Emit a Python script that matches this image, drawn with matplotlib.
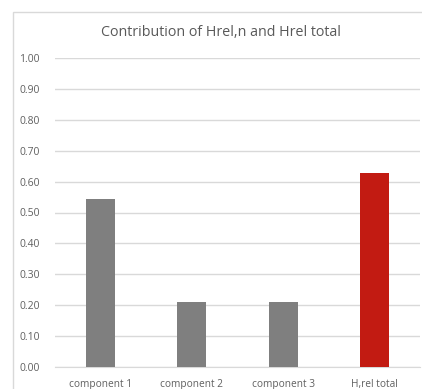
import matplotlib
matplotlib.use("Agg")
import matplotlib.pyplot as plt
from matplotlib.patches import Rectangle

categories = ["component 1", "component 2", "component 3", "H,rel total"]
values = [0.545, 0.21, 0.21, 0.627]
bar_colors = ["#7f7f7f", "#7f7f7f", "#7f7f7f", "#c21b12"]
yticks = [0.0, 0.1, 0.2, 0.3, 0.4, 0.5, 0.6, 0.7, 0.8, 0.9, 1.0]
title = "Contribution of Hrel,n and Hrel total"

W, H = 422, 389
fig = plt.figure(figsize=(W / 100, H / 100), dpi=100)
fig.patch.set_facecolor("white")
plt.rcParams["font.family"] = ["Open Sans", "DejaVu Sans"]

# chart frame
fig.patches.append(Rectangle((13 / W, -0.05), 1.2, (H - 12) / H + 0.05,
                             transform=fig.transFigure, fill=False,
                             edgecolor="#d9d9d9", linewidth=1.0))

left, right, top, bottom = 55, 420, 58, 367
ax = fig.add_axes([left / W, 1 - bottom / H, (right - left) / W, (bottom - top) / H])
ax.set_facecolor("none")

x = range(len(categories))
ax.bar(x, values, width=0.32, color=bar_colors, zorder=3)
ax.set_xlim(-0.5, len(categories) - 0.5)
ax.set_ylim(0, 1.0)
ax.set_yticks(yticks)
ax.set_yticklabels([f"{t:.2f}" for t in yticks])
ax.set_xticks(list(x))
ax.set_xticklabels(categories)
ax.yaxis.grid(True, color="#d9d9d9", linewidth=1.0, zorder=0)
ax.set_axisbelow(True)
for s in ["top", "right", "left"]:
    ax.spines[s].set_visible(False)
ax.spines["bottom"].set_color("#d9d9d9")
ax.tick_params(axis="both", length=0, colors="#606060")
ax.tick_params(axis="y", pad=11, labelsize=7.5)
ax.tick_params(axis="x", pad=9, labelsize=7.3)

fig.text(221 / W, 1 - 33 / H, title, ha="center", va="center",
         fontsize=10.3, color="#595959")

fig.savefig("out.png", dpi=100)
